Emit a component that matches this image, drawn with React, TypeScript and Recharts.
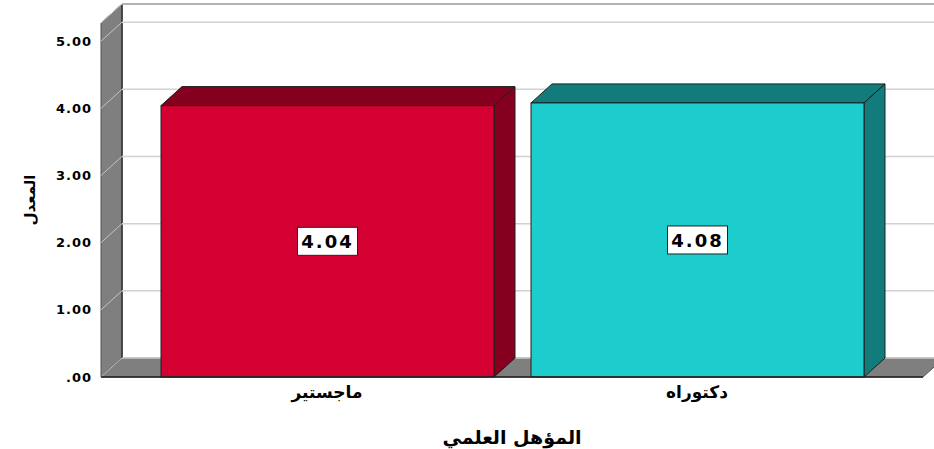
import React from 'react';
import { BarChart, Bar, XAxis, YAxis, CartesianGrid, Cell, LabelList, Label } from 'recharts';

const categories = ['ماجستير', 'دكتوراه'];
const means = [4.04, 4.08];
const yTicks = [0, 1, 2, 3, 4, 5];
const yMax = 5.27;
const frontColors = ['#D50032', '#1DCDCD'];
const sideColors = ['#85001F', '#127C7C'];
const yTitle = 'المعدل';
const xTitle = 'المؤهل العلمي';

const data = categories.map((c, i) => ({ name: c, value: means[i] }));

const DX = 21;
const DY = 19;
const FONT = '"DejaVu Sans", "Liberation Sans", Arial, sans-serif';
const EDGE = '#1e1e1e';

const Bar3D = (props: any) => {
  const { x, y, width, height } = props;
  let idx = typeof props.index === 'number' ? props.index : categories.indexOf(props.payload?.name);
  if (idx < 0) idx = 0;
  const front = frontColors[idx];
  const dark = sideColors[idx];
  return (
    <g>
      <polygon
        points={`${x},${y} ${x + DX},${y - DY} ${x + width + DX},${y - DY} ${x + width},${y}`}
        fill={dark}
        stroke={EDGE}
        strokeWidth={1}
      />
      <polygon
        points={`${x + width},${y} ${x + width + DX},${y - DY} ${x + width + DX},${y + height - DY} ${x + width},${y + height}`}
        fill={dark}
        stroke={EDGE}
        strokeWidth={1}
      />
      <rect x={x} y={y} width={width} height={height} fill={front} stroke={EDGE} strokeWidth={1} />
    </g>
  );
};

const Walls = ({ x, y, width, height }: any) => {
  const b = y + height;
  return (
    <g>
      <polygon
        points={`${x},${b} ${x},${y} ${x + DX},${y - DY} ${x + DX},${b - DY}`}
        fill="#7f7f7f"
        stroke="#555"
        strokeWidth={1}
      />
      <polygon
        points={`${x},${b} ${x + DX},${b - DY} ${x + width + DX},${b - DY} ${x + width},${b}`}
        fill="#7f7f7f"
        stroke="#555"
        strokeWidth={1}
      />
      <line x1={x + DX} y1={y - DY} x2={x + width + DX + 20} y2={y - DY} stroke="#555" strokeWidth={2} />
      <line x1={x + DX} y1={y - DY} x2={x + DX} y2={b - DY} stroke="#333" strokeWidth={1.5} />
    </g>
  );
};

const GridLine = (p: any) => {
  const { x1, x2, y1, index } = p;
  const gx = typeof p.x === 'number' ? p.x : x1;
  const gw = typeof p.width === 'number' ? p.width : x2 - x1;
  const gy = typeof p.y === 'number' ? p.y : 23;
  const gh = typeof p.height === 'number' ? p.height : 354;
  return (
    <g>
      {index === 0 ? <Walls x={gx} y={gy} width={gw} height={gh} /> : null}
      <line x1={x1} y1={y1} x2={x1 + DX} y2={y1 - DY} stroke="#c4c4c4" strokeWidth={1} />
      <line x1={x1 + DX} y1={y1 - DY} x2={x2 + DX + 20} y2={y1 - DY} stroke="#d2d2d2" strokeWidth={1.5} />
    </g>
  );
};

const ValueLabel = (props: any) => {
  const { x, y, width, height, value } = props;
  const cx = x + width / 2;
  const cy = y + height / 2;
  return (
    <g>
      <rect x={cx - 30} y={cy - 14} width={60} height={28} fill="#fff" stroke="#222" strokeWidth={1} />
      <text
        x={cx}
        y={cy + 7}
        textAnchor="middle"
        fontFamily={FONT}
        fontWeight="bold"
        fontSize={18}
        letterSpacing={2}
        fill="#000"
      >
        {Number(value).toFixed(2)}
      </text>
    </g>
  );
};

const fmt = (v: number) => (v === 0 ? '.00' : v.toFixed(2));

export default function App() {
  return (
    <div style={{ position: 'absolute', left: 0, top: 0, background: '#fff' }}>
      <BarChart width={934} height={449} data={data} margin={{ top: 23, right: 11, left: 0, bottom: 0 }}>
        <CartesianGrid vertical={false} horizontal={(p: any) => <GridLine {...p} />} />
        <XAxis
          dataKey="name"
          padding={{ left: 41, right: 41 }}
          axisLine={{ stroke: '#222', strokeWidth: 1.5 }}
          tickLine={false}
          tickSize={0}
          tickMargin={9}
          height={72}
          tick={{ fill: '#000', fontSize: 17, fontWeight: 'bold', fontFamily: FONT }}
        >
          <Label
            content={(lp: any) => {
              const vb = lp.viewBox || {};
              return (
                <text
                  x={vb.x + vb.width / 2}
                  y={vb.y + 67}
                  textAnchor="middle"
                  fontFamily={FONT}
                  fontWeight="bold"
                  fontSize={19}
                  fill="#000"
                >
                  {xTitle}
                </text>
              );
            }}
          />
        </XAxis>
        <YAxis
          domain={[0, yMax]}
          ticks={yTicks}
          tickFormatter={fmt}
          axisLine={false}
          tickLine={false}
          tickSize={0}
          tickMargin={9}
          width={101}
          tick={{ fill: '#000', fontSize: 13, fontWeight: 'bold', fontFamily: FONT, letterSpacing: 1 }}
        >
          <Label
            content={(lp: any) => {
              const vb = lp.viewBox || {};
              const cx = 30;
              const cy = vb.y + vb.height / 2;
              return (
                <text
                  x={cx}
                  y={cy}
                  transform={`rotate(-90 ${cx} ${cy})`}
                  textAnchor="middle"
                  dominantBaseline="central"
                  fontFamily={FONT}
                  fontWeight="bold"
                  fontSize={15}
                  fill="#000"
                >
                  {yTitle}
                </text>
              );
            }}
          />
        </YAxis>
        <Bar dataKey="value" barSize={333} shape={<Bar3D />} isAnimationActive={false}>
          {data.map((d, i) => (
            <Cell key={d.name} fill={frontColors[i]} />
          ))}
          <LabelList dataKey="value" content={<ValueLabel />} />
        </Bar>
      </BarChart>
    </div>
  );
}
